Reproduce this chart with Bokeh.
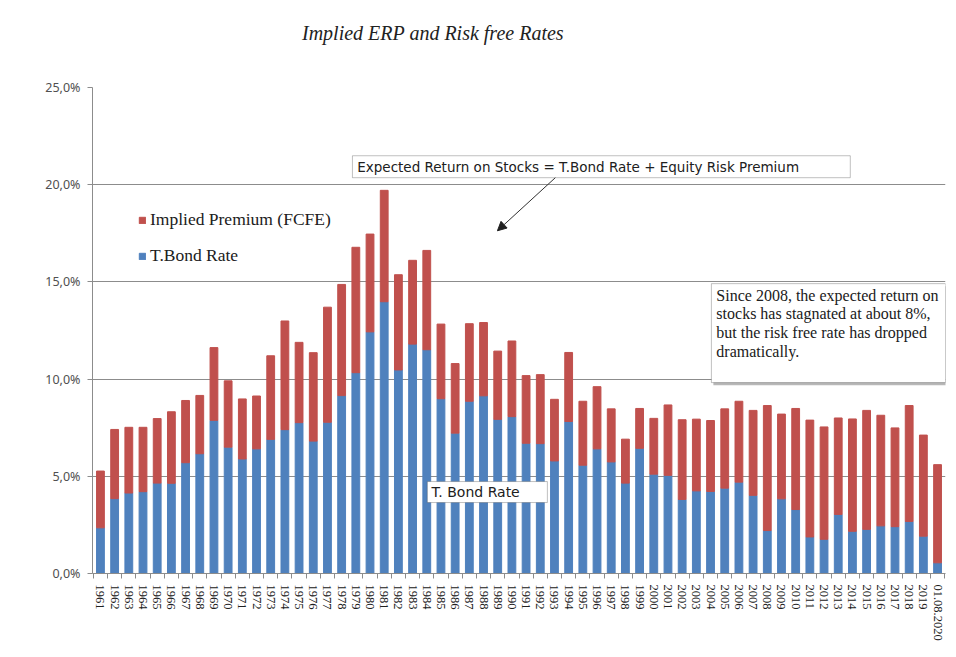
from bokeh.plotting import figure
from bokeh.layouts import column
from bokeh.models import (ColumnDataSource, Range1d, FixedTicker, CustomJSTickFormatter,
                          Legend, LegendItem, Label, BoxAnnotation, Arrow, NormalHead, Div)
from bokeh.embed import file_html
from bokeh.resources import INLINE

# ---- data (percent) ----
years = [str(y) for y in range(1961, 2020)] + ["01.08.2020"]
tbond_rate = [2.35, 3.85, 4.14, 4.21, 4.65, 4.64, 5.70, 6.16, 7.88, 6.50,
              5.89, 6.41, 6.90, 7.40, 7.76, 6.81, 7.78, 9.15, 10.33, 12.43,
              13.98, 10.47, 11.80, 11.51, 8.99, 7.22, 8.86, 9.14, 7.93, 8.07,
              6.70, 6.68, 5.79, 7.82, 5.57, 6.41, 5.74, 4.65, 6.44, 5.11,
              5.05, 3.81, 4.25, 4.22, 4.39, 4.70, 4.02, 2.21, 3.84, 3.29,
              1.88, 1.76, 3.04, 2.17, 2.27, 2.45, 2.41, 2.68, 1.92, 0.55]
implied_premium = [2.92, 3.56, 3.38, 3.31, 3.32, 3.68, 3.20, 3.00, 3.74, 3.41,
                   3.09, 2.72, 4.30, 5.59, 4.13, 4.55, 5.92, 5.72, 6.45, 5.03,
                   5.73, 4.90, 4.31, 5.11, 3.84, 3.58, 3.99, 3.77, 3.51, 3.89,
                   3.48, 3.55, 3.17, 3.55, 3.29, 3.20, 2.73, 2.26, 2.05, 2.87,
                   3.62, 4.10, 3.69, 3.65, 4.08, 4.16, 4.37, 6.43, 4.36, 5.20,
                   6.01, 5.78, 4.96, 5.78, 6.12, 5.69, 5.08, 5.96, 5.20, 5.05]
y_ticks = [0, 5, 10, 15, 20, 25]
chart_title = "Implied ERP and Risk free Rates"

BLUE = "#4F81BD"
RED = "#C0504D"
GRID = "#8c8c8c"

idx = list(range(len(years)))
source = ColumnDataSource(dict(x=idx, bond=tbond_rate, prem=implied_premium))

TITLE_H = 50
title_div = Div(
    text=("<div style=\"position:absolute; left:302px; top:21px; white-space:nowrap; "
          "font-family:'Liberation Serif'; font-style:italic; font-size:20px; "
          "line-height:24px; color:#222222;\">" + chart_title + "</div>"),
    width=956, height=TITLE_H, margin=0, styles={"background-color": "white"})

p = figure(width=956, height=657 - TITLE_H, output_backend="svg", toolbar_location=None,
           x_range=Range1d(-0.56, len(years) - 1 + 0.56), y_range=Range1d(0, 25),
           min_border_left=92, min_border_right=11, min_border_top=87 - TITLE_H,
           min_border_bottom=84, margin=0)
p.outline_line_color = None
p.background_fill_color = "white"
p.border_fill_color = "white"

rs = p.vbar_stack(["bond", "prem"], x="x", width=0.55, color=[BLUE, RED], source=source)
r_bond, r_prem = rs

# axes
p.xgrid.visible = False
p.ygrid.ticker = FixedTicker(ticks=y_ticks)
p.ygrid.grid_line_color = GRID
p.ygrid.grid_line_width = 1

p.yaxis.ticker = FixedTicker(ticks=y_ticks, minor_ticks=[])
p.yaxis.formatter = CustomJSTickFormatter(code="return tick.toFixed(1).replace('.', ',') + '%';")
p.yaxis.axis_line_color = GRID
p.yaxis.major_tick_line_color = GRID
p.yaxis.major_tick_out = 5
p.yaxis.major_tick_in = 0
p.yaxis.minor_tick_line_color = None
p.yaxis.major_label_text_font = "Noto Sans"
p.yaxis.major_label_text_font_size = "12.5px"
p.yaxis.major_label_text_color = "#505050"
p.yaxis.major_label_standoff = 7

p.xaxis.ticker = FixedTicker(ticks=idx, minor_ticks=[i - 0.5 for i in range(len(years) + 1)])
p.xaxis.formatter = CustomJSTickFormatter(args=dict(labels=years),
                                          code="return labels[Math.round(tick)] || '';")
p.xaxis.major_label_orientation = "vertical"
p.xaxis.axis_line_color = GRID
p.xaxis.major_tick_line_color = None
p.xaxis.major_tick_out = 0
p.xaxis.major_tick_in = 0
p.xaxis.minor_tick_line_color = GRID
p.xaxis.minor_tick_out = 5
p.xaxis.minor_tick_in = 0
p.xaxis.major_label_text_font = "Liberation Serif"
p.xaxis.major_label_text_font_size = "12.5px"
p.xaxis.major_label_text_color = "#202020"
p.xaxis.major_label_standoff = 6

# legend
legend = Legend(items=[LegendItem(label="Implied Premium (FCFE)", renderers=[r_prem]),
                       LegendItem(label="T.Bond Rate", renderers=[r_bond])],
                location=(46, 307), border_line_color=None, background_fill_alpha=0,
                padding=0, margin=0, spacing=15, label_height=20, glyph_width=8, glyph_height=8,
                label_standoff=4, label_text_font="Liberation Serif", label_text_font_size="17.5px",
                label_text_color="#202020")
p.add_layout(legend)

# annotation boxes
box1 = BoxAnnotation(left=17.76, right=52.85, top=21.49, bottom=20.36,
                     fill_color="white", fill_alpha=1, line_color="#303030", line_width=1)
shadow2 = BoxAnnotation(left=43.2, right=59.7, top=14.77, bottom=9.68,
                        fill_color="#9a9a9a", fill_alpha=0.7, line_color=None)
box2 = BoxAnnotation(left=43.06, right=59.56, top=14.91, bottom=9.82,
                     fill_color="white", fill_alpha=1, line_color="#303030", line_width=1)
box3 = BoxAnnotation(left=23.04, right=31.5, top=4.73, bottom=3.65,
                     fill_color="white", fill_alpha=1, line_color="#303030", line_width=1)
for b in (box1, shadow2, box2, box3):
    p.add_layout(b)

lab1 = Label(x=18.1, y=20.93, text="Expected Return on Stocks = T.Bond Rate + Equity Risk Premium",
             text_font="DejaVu Sans", text_font_size="13.5px", text_color="#202020",
             text_align="left", text_baseline="middle")
lab2 = Label(x=43.41, y=14.75,
             text="Since 2008, the expected return on\nstocks has stagnated at about 8%,\n"
                  "but the risk  free rate has dropped\ndramatically.",
             text_font="Liberation Serif", text_font_size="16px", text_color="#202020",
             text_align="left", text_baseline="top", text_line_height=1.1)
lab3 = Label(x=23.33, y=4.19, text="T. Bond Rate",
             text_font="DejaVu Sans", text_font_size="14px", text_color="#202020",
             text_align="left", text_baseline="middle")
for l in (lab1, lab2, lab3):
    p.add_layout(l)

arrow = Arrow(end=NormalHead(size=9, fill_color="#202020", line_color="#202020"),
              x_start=32.06, y_start=20.36, x_end=27.98, y_end=17.63,
              line_color="#303030", line_width=1)
p.add_layout(arrow)

layout = column(title_div, p, spacing=0)
open("out.html", "w").write(file_html(layout, INLINE))
